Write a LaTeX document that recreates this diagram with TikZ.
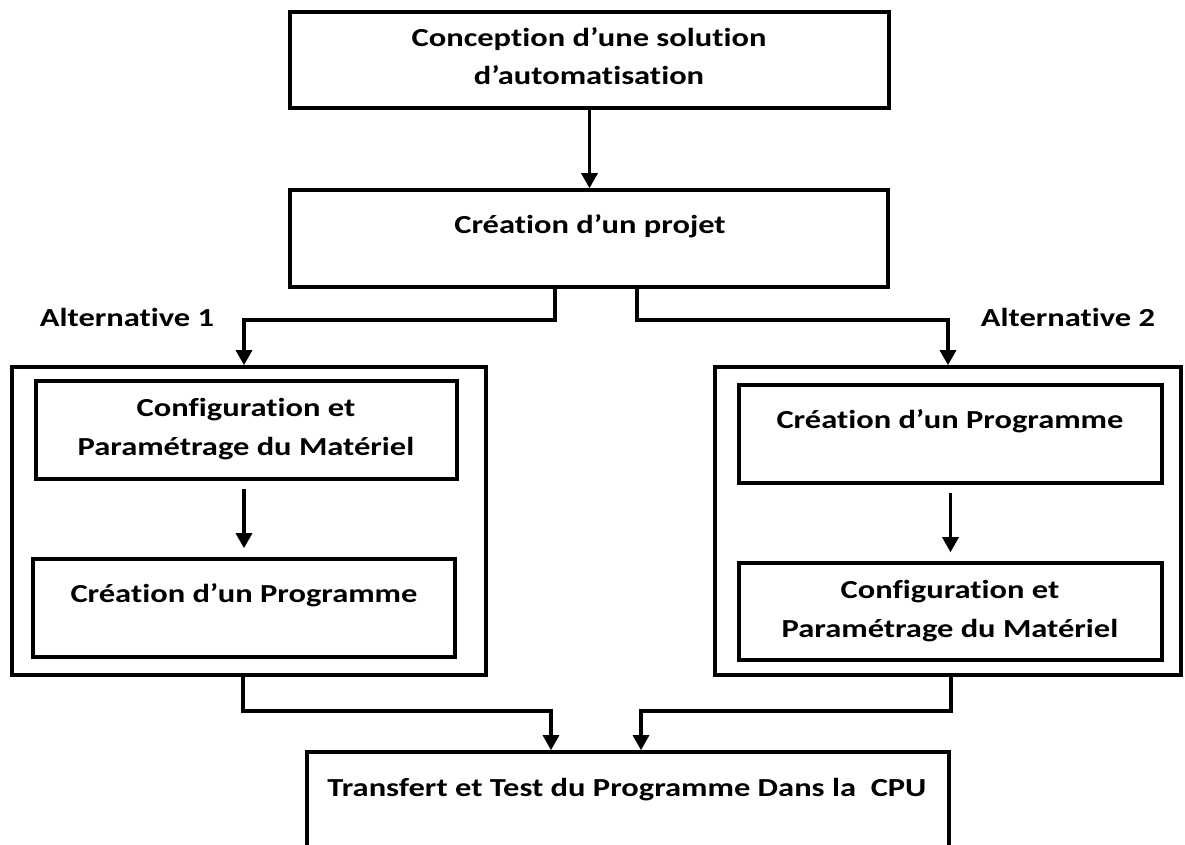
\documentclass[tikz,border=0pt]{standalone}
\usepackage{fontspec}
\setmainfont{Carlito}[Ligatures=NoCommon]
\usetikzlibrary{arrows.meta}
% labels are set slightly extended
\newcommand\stretchtxt[1]{\scalebox{1.25}[1]{#1}}
\begin{document}
\begin{tikzpicture}[x=1pt,y=-1pt,
  frame/.style={draw, line width=3.6pt, rectangle, inner sep=0pt},
  txt/.style={font=\fontsize{26}{30}\selectfont\bfseries, inner sep=0pt,
              text height=16.6pt, text depth=0pt},
  arr/.style={line width=3.2pt, -{Triangle[width=16pt,length=15pt]}},
  arrin/.style={arr, shorten <=8pt, shorten >=9pt}]
\useasboundingbox (0,0) rectangle (1185,845);
\clip (0,0) rectangle (1185,845);

% boxes
\node[frame, minimum width=599, minimum height=96] (A) at (589.5,60) {};
\node[frame, minimum width=598, minimum height=97] (B) at (589,238.5) {};
\node[frame, minimum width=474, minimum height=308] (Lout) at (249,521) {};
\node[frame, minimum width=421, minimum height=98] (L1) at (246.5,430) {};
\node[frame, minimum width=422, minimum height=98] (L2) at (244,608) {};
\node[frame, minimum width=466, minimum height=308] (Rout) at (948,521) {};
\node[frame, minimum width=423, minimum height=98] (R1) at (950.5,434) {};
\node[frame, minimum width=423, minimum height=97] (R2) at (950.5,611.5) {};
\node[frame, minimum width=642, minimum height=160] (C) at (628,832) {};

% texts
\node[txt] (tA1) at (589,38.5) {\stretchtxt{Conception d’une solution}};
\node[txt] (tA2) at (589,76.5) {\stretchtxt{d’automatisation}};
\node[txt] (tB) at (590,225) {\stretchtxt{Création d’un projet}};
\node[txt] (alt1) at (127,318) {\stretchtxt{Alternative 1}};
\node[txt] (alt2) at (1068,318) {\stretchtxt{Alternative 2}};
\node[txt] (tL1a) at (246,408.5) {\stretchtxt{Configuration et}};
\node[txt] (tL1b) at (246,447) {\stretchtxt{Paramétrage du Matériel}};
\node[txt] (tL2) at (244,594.5) {\stretchtxt{Création d’un Programme}};
\node[txt] (tR1) at (950,420) {\stretchtxt{Création d’un Programme}};
\node[txt] (tR2a) at (950,590) {\stretchtxt{Configuration et}};
\node[txt] (tR2b) at (950,629) {\stretchtxt{Paramétrage du Matériel}};
\node[txt] (tC) at (627,788) {\stretchtxt{Transfert et Test du Programme Dans la\ \ CPU}};

% junction points of the routed connectors
\coordinate (jL) at (555,320);
\coordinate (jR) at (637,320);
\coordinate (kL) at (551,711);
\coordinate (kR) at (641,711);

% connectors
\draw[arr] (A.south) -- (A.south |- B.north);
\draw[arr] (B.south -| jL) -- (jL) -| ([xshift=-5pt]Lout.north);
\draw[arr] (B.south -| jR) -- (jR) -| (Rout.north);
\draw[arrin] (L1.south -| tL2) -- (tL2 |- L2.north);
\draw[arrin] (R1.south) -- (R1.south |- R2.north);
\draw[arr] ([xshift=-6pt]Lout.south) |- (kL) -- (kL |- C.north);
\draw[arr] ([xshift=3pt]Rout.south) |- (kR) -- (kR |- C.north);
\end{tikzpicture}
\end{document}
